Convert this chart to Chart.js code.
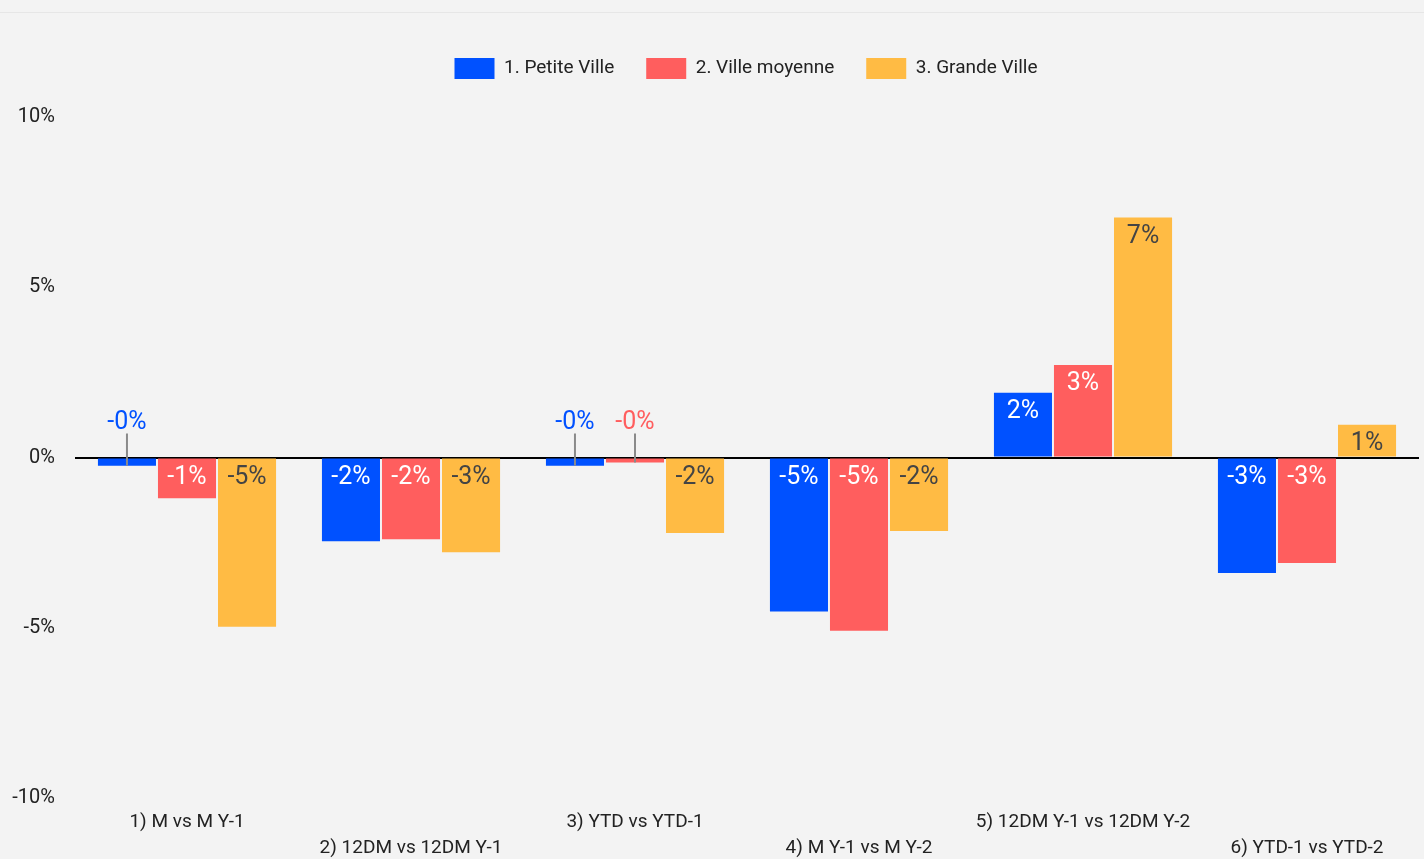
<!DOCTYPE html>
<html>
<head>
<meta charset="utf-8">
<script src="https://cdn.jsdelivr.net/npm/chart.js@4"></script>
<style>
  html, body { margin: 0; padding: 0; background: #f3f3f3; }
  .bar-top { height: 12px; background: #f3f3f3; border-bottom: 1px solid #e6e6e6; box-shadow: 0 1px 3px rgba(0,0,0,0.10); position: relative; z-index: 1; }
  .wrap { position: absolute; left: 0; top: 14px; width: 1424px; height: 845px; }
</style>
</head>
<body>
<div class="bar-top"></div>
<div class="wrap"><canvas id="chart"></canvas></div>
<script>
const categories = ['1) M vs M Y-1', '2) 12DM vs 12DM Y-1', '3) YTD vs YTD-1', '4) M Y-1 vs M Y-2', '5) 12DM Y-1 vs 12DM Y-2', '6) YTD-1 vs YTD-2'];
const seriesNames = ['1. Petite Ville', '2. Ville moyenne', '3. Grande Ville'];
const petiteVille = [-0.24, -2.46, -0.24, -4.52, 1.9, -3.39];
const villeMoyenne = [-1.2, -2.4, -0.15, -5.09, 2.72, -3.1];
const grandeVille = [-4.97, -2.78, -2.22, -2.16, 7.05, 0.96];
const yTicks = [-10, -5, 0, 5, 10];

const colors = ['#0051ff', '#ff5e5e', '#ffbb44'];
const insideText = ['#ffffff', '#ffffff', '#444444'];

function pct(v) {
  return v.toFixed(0) + '%';
}

// labels on the bars, like the Data Studio export
const barLabels = {
  id: 'barLabels',
  afterDatasetsDraw(chart) {
    const ctx = chart.ctx;
    ctx.save();
    ctx.font = '25px Roboto';
    ctx.textAlign = 'center';
    ctx.textBaseline = 'middle';
    chart.data.datasets.forEach((ds, di) => {
      const meta = chart.getDatasetMeta(di);
      meta.data.forEach((bar, i) => {
        const v = ds.data[i];
        const h = Math.abs(bar.base - bar.y);
        const top = Math.min(bar.y, bar.base);
        if (h < 22) {
          // too small: put it above with a little leader line
          ctx.strokeStyle = '#8a8a8a';
          ctx.lineWidth = 2;
          ctx.beginPath();
          ctx.moveTo(bar.x, top - 25);
          ctx.lineTo(bar.x, bar.y);
          ctx.stroke();
          ctx.fillStyle = colors[di];
          ctx.fillText(pct(v), bar.x, top - 36);
        } else {
          ctx.fillStyle = insideText[di];
          ctx.fillText(pct(v), bar.x, top + 19);
        }
      });
    });
    ctx.restore();
  }
};

const data = {
  labels: categories,
  datasets: [
    { label: seriesNames[0], data: petiteVille, backgroundColor: colors[0] },
    { label: seriesNames[1], data: villeMoyenne, backgroundColor: colors[1] },
    { label: seriesNames[2], data: grandeVille, backgroundColor: colors[2] }
  ]
};

const config = {
  type: 'bar',
  data,
  plugins: [barLabels],
  options: {
    responsive: true,
    maintainAspectRatio: false,
    animation: false,
    datasets: {
      bar: {
        categoryPercentage: 0.804,
        barPercentage: 0.967
      }
    },
    layout: {
      padding: { left: 0, right: 5, top: 12, bottom: 0 }
    },
    plugins: {
      legend: {
        display: true,
        position: 'top',
        labels: {
          boxWidth: 40,
          boxHeight: 21,
          padding: 32,
          color: '#222',
          font: { family: 'Roboto', size: 19 }
        }
      },
      tooltip: { enabled: false }
    },
    scales: {
      x: {
        grid: { display: false, drawTicks: false },
        border: { display: false },
        afterFit(axis) { axis.height = 61; },
        ticks: {
          autoSkip: false,
          maxRotation: 0,
          minRotation: 0,
          padding: 11,
          color: '#222',
          font: { family: 'Roboto', size: 19, lineHeight: '26px' },
          callback: function (val, index) {
            const lbl = this.getLabelForValue(val);
            return index % 2 === 0 ? [lbl, ''] : ['', lbl];
          }
        }
      },
      y: {
        min: -10,
        max: 10,
        afterFit(axis) { axis.width = 75; },
        afterBuildTicks(axis) { axis.ticks = yTicks.map((v) => ({ value: v })); },
        border: { display: false },
        grid: {
          drawTicks: false,
          color: (c) => (c.tick && c.tick.value === 0 ? '#000' : 'rgba(0,0,0,0)'),
          lineWidth: (c) => (c.tick && c.tick.value === 0 ? 2 : 0)
        },
        ticks: {
          padding: 20,
          color: '#222',
          font: { family: 'Roboto', size: 20 },
          callback: (v) => v + '%'
        }
      }
    }
  }
};

config.plugins.push({
  id: 'legendPlace',
  beforeInit(chart) {
    // leave a gap between legend and plot
    const fit = chart.legend.fit;
    chart.legend.fit = function () {
      fit.bind(chart.legend)();
      this.height += 28;
    };
  },
  afterLayout(chart) {
    // centre the legend over the plot area, not the whole canvas
    chart.legend.left = chart.chartArea.left - 2;
  }
});

const barChart = new Chart(document.getElementById('chart'), config);
</script>
</body>
</html>
